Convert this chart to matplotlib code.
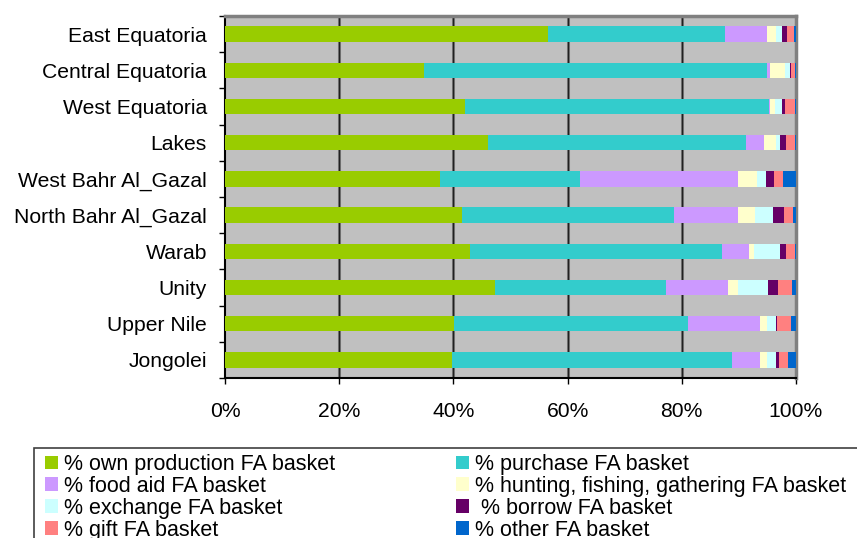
import matplotlib
matplotlib.use("Agg")
import matplotlib.pyplot as plt
import numpy as np
from matplotlib.patches import Rectangle, Patch

regions = ["East Equatoria", "Central Equatoria", "West Equatoria", "Lakes",
           "West Bahr Al_Gazal", "North Bahr Al_Gazal", "Warab", "Unity",
           "Upper Nile", "Jongolei"]

own_production = [56.6, 34.9, 42.1, 46.0, 37.7, 41.5, 42.9, 47.2, 40.1, 39.7]
purchase = [30.9, 60.0, 53.1, 45.2, 24.4, 37.1, 44.1, 30.0, 41.0, 49.1]
food_aid = [7.4, 0.5, 0.2, 3.2, 27.7, 11.2, 4.8, 10.9, 12.6, 4.9]
hunting = [1.6, 2.7, 0.9, 2.1, 3.4, 3.0, 0.8, 1.7, 1.2, 1.2]
exchange = [1.0, 0.8, 1.2, 0.7, 1.5, 3.2, 4.6, 5.3, 1.6, 1.6]
borrow = [0.9, 0.2, 0.6, 1.0, 1.4, 1.9, 1.0, 1.7, 0.2, 0.5]
gift = [1.2, 0.8, 1.7, 1.7, 1.6, 1.6, 1.6, 2.5, 2.5, 1.6]
other = [0.4, 0.1, 0.2, 0.1, 2.3, 0.5, 0.2, 0.7, 0.8, 1.4]

series = [
    ("% own production FA basket", own_production, "#99CC00"),
    ("% purchase FA basket", purchase, "#33CCCC"),
    ("% food aid FA basket", food_aid, "#CC99FF"),
    ("% hunting, fishing, gathering FA basket", hunting, "#FFFFCC"),
    ("% exchange FA basket", exchange, "#CCFFFF"),
    (" % borrow FA basket", borrow, "#660066"),
    ("% gift FA basket", gift, "#FF8080"),
    ("% other FA basket", other, "#0066CC"),
]

plt.rcParams['font.family'] = ['Liberation Sans', 'DejaVu Sans']

W, H = 857, 538
fig = plt.figure(figsize=(W / 100, H / 100), dpi=100)
ax = fig.add_axes([225 / W, (H - 378) / H, 571 / W, 362 / H])
ax.set_facecolor("#C0C0C0")

# normalise each row to 100%
data = np.array([s[1] for s in series], dtype=float)
data = data / data.sum(axis=0) * 100

y = np.arange(len(regions))
left = np.zeros(len(regions))
for (label, _, color), vals in zip(series, data):
    ax.barh(y, vals, left=left, height=0.42, color=color, label=label, zorder=3)
    left += vals

ax.set_xlim(0, 100)
ax.set_ylim(len(regions) - 0.5, -0.5)
ax.set_xticks([0, 20, 40, 60, 80, 100])
ax.set_xticklabels(["0%", "20%", "40%", "60%", "80%", "100%"])
ax.set_yticks(y)
ax.set_yticklabels(regions)
ax.set_yticks(np.arange(len(regions) + 1) - 0.5, minor=True)

ax.tick_params(axis="x", length=4, width=1, pad=13, labelsize=15.2, direction="out")
ax.tick_params(axis="y", which="major", length=0, pad=13, labelsize=15.2)
ax.tick_params(axis="y", which="minor", length=4, width=1, direction="out")

for xv in [20, 40, 60, 80]:
    ax.axvline(xv, color="#808080", lw=2.2, zorder=1)
    ax.axvline(xv, color="#202020", lw=1.0, zorder=2)

ax.spines["left"].set_color("black")
ax.spines["bottom"].set_color("black")
ax.spines["left"].set_linewidth(1.5)
ax.spines["bottom"].set_linewidth(1.5)
for side in ["top", "right"]:
    ax.spines[side].set_color("#808080")
    ax.spines[side].set_linewidth(2.5)

# legend box running off the figure edge
fig.patches.append(Rectangle((34 / W, -0.1), 1.0, (H - 448) / H + 0.1,
                             transform=fig.transFigure, facecolor="white",
                             edgecolor="#404040", lw=1.2))

order = [0, 2, 4, 6, 1, 3, 5, 7]
handles = [Patch(facecolor=series[i][2], edgecolor="none") for i in order]
labels = [series[i][0] for i in order]
fig.legend(handles, labels, loc="upper left", bbox_to_anchor=(45 / W, (H - 454) / H),
           ncol=2, frameon=False, fontsize=15.5, handlelength=0.6, handleheight=0.6,
           handletextpad=0.3, labelspacing=0.04, columnspacing=5.6, borderpad=0.0,
           borderaxespad=0.0)

fig.savefig("out.png", dpi=100)
